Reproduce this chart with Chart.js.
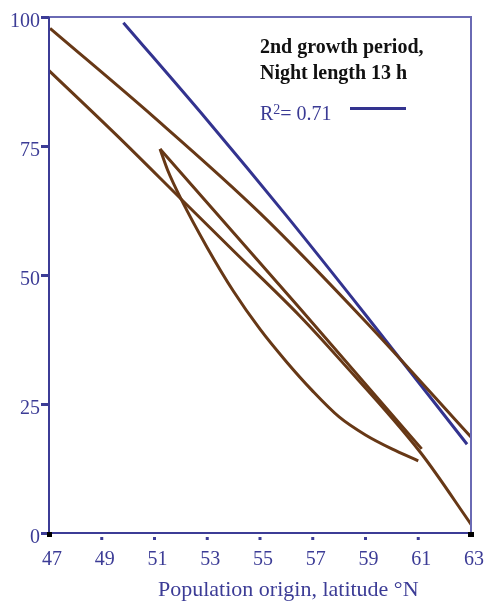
<!DOCTYPE html>
<html>
<head>
<meta charset="utf-8">
<script src="https://cdn.jsdelivr.net/npm/chart.js@4.4.1/dist/chart.umd.min.js"></script>
<style>
  html, body { margin: 0; padding: 0; background: #fff; }
  #wrap { position: relative; width: 491px; height: 601px; }
  #note { position: absolute; left: 260px; top: 33px; font: bold 20px/26px "Liberation Serif", serif; color: #111; white-space: nowrap; }
  #r2 { position: absolute; left: 260px; top: 101px; font: 20px/24px "Liberation Serif", serif; color: #3a3a94; white-space: nowrap; }
  #r2 sup { font-size: 14px; vertical-align: 6px; line-height: 0; }
  #r2line { position: absolute; left: 350px; top: 107px; width: 56px; height: 3px; background: #33338f; }
  #xtitle { position: absolute; left: 158px; top: 577px; font: 22px/24px "Liberation Serif", serif; color: #3c3c96; white-space: nowrap; }
</style>
</head>
<body>
<div id="wrap">
  <canvas id="chart" width="491" height="601"></canvas>
  <div id="note">2nd growth period,<br>Night length 13 h</div>
  <div id="r2">R<sup>2</sup>= 0.71</div>
  <div id="r2line"></div>
  <div id="xtitle">Population origin, latitude °N</div>
</div>
<script>
// axis ticks
const xTicks = [47, 49, 51, 53, 55, 57, 59, 61, 63];
const yTicks = [0, 25, 50, 75, 100];

// fitted line (R2 = 0.71)
const fitLat = [49.82, 53, 56, 59, 62.85];
const fitVal = [98.9, 80.0, 61.5, 42.3, 17.2];

// brown population curves
const upperLat = [47.04, 51, 55, 59, 63];
const upperVal = [97.8, 80.5, 62, 41, 18.6];

const lowerLat = [47, 49.6, 52.09, 53.99, 56.5, 58.03, 61.1, 63.04];
const lowerVal = [89.6, 76.9, 64.3, 54.7, 42.1, 33.6, 15.5, 1.4];

const bendLat = [51.21, 51.5, 52, 53, 54, 55, 56, 57, 58, 59, 60, 61];
const bendVal = [74.4, 70.3, 64.8, 55.3, 46.8, 39.5, 33.2, 27.5, 22.5, 19.0, 16.3, 14.0];

const straightLat = [51.21, 56.5, 61.13];
const straightVal = [74.4, 43.6, 16.3];

const BROWN = '#673816';
const BLUE = '#33338f';
const AXIS = '#3c3c96';

function points(lat, val) {
    return lat.map((x, i) => ({ x: x, y: val[i] }));
}

function curve(lat, val, color) {
    return {
        data: points(lat, val),
        borderColor: color,
        borderWidth: 3,
        pointRadius: 0,
        showLine: true,
        fill: false,
        cubicInterpolationMode: 'monotone'
    };
}

// frame and the little tick marks of the original
const framePlugin = {
    id: 'frame',
    afterDraw(chart) {
        const ctx = chart.ctx;
        const { left, right, top, bottom } = chart.chartArea;
        const xs = chart.scales.x, ys = chart.scales.y;
        ctx.save();
        ctx.strokeStyle = '#6a6ab4';
        ctx.lineWidth = 2;
        ctx.beginPath();
        ctx.moveTo(left, top);
        ctx.lineTo(right, top);
        ctx.lineTo(right, bottom);
        ctx.stroke();
        ctx.strokeStyle = AXIS;
        ctx.beginPath();
        ctx.moveTo(left, top);
        ctx.lineTo(left, bottom);
        ctx.lineTo(right, bottom);
        ctx.stroke();
        ctx.fillStyle = AXIS;
        yTicks.forEach(v => {
            const y = ys.getPixelForValue(v);
            ctx.fillRect(left - 8, y - 1, 8, 3);
        });
        xTicks.slice(1, -1).forEach(v => {
            const x = xs.getPixelForValue(v);
            ctx.fillRect(x - 1.5, bottom + 4, 3, 3);
        });
        ctx.fillStyle = '#000';
        ctx.fillRect(left - 2, bottom - 1, 5, 5);
        ctx.fillRect(right - 3, bottom - 1, 6, 5);
        ctx.restore();
    }
};

Chart.defaults.font.family = '"Liberation Serif", serif';

new Chart(document.getElementById('chart'), {
    type: 'scatter',
    data: {
        datasets: [
            curve(upperLat, upperVal, BROWN),
            curve(lowerLat, lowerVal, BROWN),
            curve(bendLat, bendVal, BROWN),
            curve(straightLat, straightVal, BROWN),
            curve(fitLat, fitVal, BLUE)
        ]
    },
    options: {
        responsive: false,
        animation: false,
        devicePixelRatio: 1,
        layout: { padding: { top: 17, right: 20, left: 0, bottom: 0 } },
        plugins: {
            legend: { display: false },
            tooltip: { enabled: false }
        },
        scales: {
            x: {
                type: 'linear',
                min: 47,
                max: 63,
                afterBuildTicks: s => { s.ticks = xTicks.map(v => ({ value: v })); },
                afterFit: s => { s.height = 68; s.paddingLeft = 0; s.paddingRight = 0; },
                grid: { display: false },
                border: { display: false },
                ticks: { color: AXIS, font: { size: 20 }, padding: 7, labelOffset: 3, maxRotation: 0, autoSkip: false }
            },
            y: {
                min: 0,
                max: 100,
                afterBuildTicks: s => { s.ticks = yTicks.map(v => ({ value: v })); },
                afterFit: s => { s.width = 49; s.paddingTop = 0; s.paddingBottom = 0; },
                grid: { display: false },
                border: { display: false },
                ticks: { color: AXIS, font: { size: 20 }, padding: 1, labelOffset: 5 }
            }
        }
    },
    plugins: [framePlugin]
});
</script>
</body>
</html>
